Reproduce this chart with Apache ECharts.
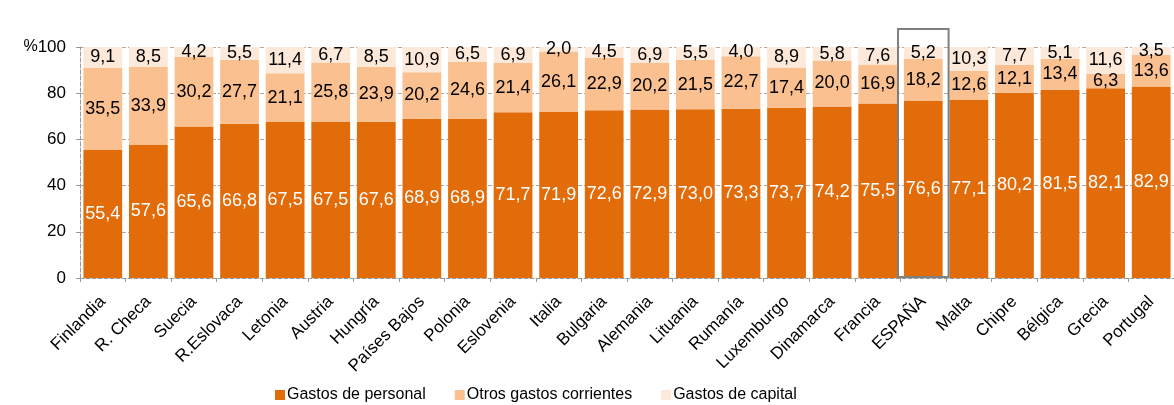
<!DOCTYPE html>
<html>
<head>
<meta charset="utf-8">
<script src="https://cdn.jsdelivr.net/npm/echarts@6/dist/echarts.min.js"></script>
<style>
  html, body { margin: 0; padding: 0; background: #fff; }
  #chart { width: 1174px; height: 405px; }
</style>
</head>
<body>
<div id="chart"></div>
<script>
// paises ordenados por gasto de personal
var paises = ['Finlandia', 'R. Checa', 'Suecia', 'R.Eslovaca', 'Letonia', 'Austria', 'Hungría', 'Países Bajos',
  'Polonia', 'Eslovenia', 'Italia', 'Bulgaria', 'Alemania', 'Lituania', 'Rumanía', 'Luxemburgo',
  'Dinamarca', 'Francia', 'ESPAÑA', 'Malta', 'Chipre', 'Bélgica', 'Grecia', 'Portugal'];
var gastosPersonal = [55.4, 57.6, 65.6, 66.8, 67.5, 67.5, 67.6, 68.9, 68.9, 71.7, 71.9, 72.6,
  72.9, 73.0, 73.3, 73.7, 74.2, 75.5, 76.6, 77.1, 80.2, 81.5, 82.1, 82.9];
var otrosCorrientes = [35.5, 33.9, 30.2, 27.7, 21.1, 25.8, 23.9, 20.2, 24.6, 21.4, 26.1, 22.9,
  20.2, 21.5, 22.7, 17.4, 20.0, 16.9, 18.2, 12.6, 12.1, 13.4, 6.3, 13.6];
var gastosCapital = [9.1, 8.5, 4.2, 5.5, 11.4, 6.7, 8.5, 10.9, 6.5, 6.9, 2.0, 4.5,
  6.9, 5.5, 4.0, 8.9, 5.8, 7.6, 5.2, 10.3, 7.7, 5.1, 11.6, 3.5];
var yTicks = [0, 20, 40, 60, 80, 100];
var destacado = 'ESPAÑA';

var fuente = 'Liberation Sans, Arial, sans-serif';
var fmt = function (p) { return p.value.toFixed(1).replace('.', ','); };

var chart = echarts.init(document.getElementById('chart'));

function serie(nombre, datos, color, colorTexto) {
  return {
    name: nombre,
    type: 'bar',
    stack: 'total',
    barCategoryGap: '15%',
    itemStyle: { color: color },
    label: {
      show: true,
      position: 'inside',
      formatter: fmt,
      color: colorTexto,
      fontSize: 18,
      fontFamily: fuente
    },
    data: datos
  };
}

var option = {
  animation: false,
  textStyle: { fontFamily: fuente },
  grid: { left: 80, right: -5, top: 47, bottom: 127 },
  legend: {
    top: 387,
    left: 275,
    padding: 0,
    itemWidth: 10,
    itemHeight: 10,
    itemGap: 29,
    icon: 'rect',
    textStyle: { fontSize: 16, color: '#000', fontFamily: fuente, padding: [0, 0, 0, -3] },
    data: ['Gastos de personal', 'Otros gastos corrientes', 'Gastos de capital']
  },
  xAxis: {
    type: 'category',
    data: paises,
    axisLine: { lineStyle: { color: '#999', type: 'dashed' } },
    axisTick: { show: true, length: 4, lineStyle: { color: '#999', type: 'dashed' } },
    axisLabel: {
      interval: 0,
      rotate: 45,
      margin: 21,
      color: '#000',
      fontSize: 17,
      fontFamily: fuente
    }
  },
  yAxis: {
    type: 'value',
    min: yTicks[0],
    max: yTicks[yTicks.length - 1],
    interval: 20,
    axisLine: { show: true, lineStyle: { color: '#999', type: 'dashed' } },
    axisTick: { show: true, length: 5, lineStyle: { color: '#999', type: 'dashed' } },
    splitLine: { lineStyle: { color: '#aaa', type: 'dashed' } },
    axisLabel: {
      color: '#000',
      fontSize: 17,
      margin: 14,
      formatter: function (v) { return v === 100 ? '{p|%}100' : String(v); },
      rich: { p: { fontSize: 16, color: '#000', fontFamily: fuente } }
    }
  },
  series: [
    serie('Gastos de personal', gastosPersonal, '#E36C0A', '#fff'),
    serie('Otros gastos corrientes', otrosCorrientes, '#FAC08F', '#000'),
    serie('Gastos de capital', gastosCapital, '#FDE9D9', '#000')
  ]
};
chart.setOption(option);

// recuadro gris alrededor de ESPAÑA
var idx = paises.indexOf(destacado);
var centro = chart.convertToPixel({ xAxisIndex: 0 }, idx);
var anchoCat = chart.convertToPixel({ xAxisIndex: 0 }, 1) - chart.convertToPixel({ xAxisIndex: 0 }, 0);
var yCero = chart.convertToPixel({ yAxisIndex: 0 }, 0);
var yTope = chart.convertToPixel({ yAxisIndex: 0 }, 100);
chart.setOption({
  graphic: [{
    type: 'rect',
    shape: {
      x: centro - anchoCat / 2 - 2.5,
      y: yTope - 18,
      width: anchoCat + 5,
      height: yCero - yTope + 17
    },
    style: { fill: 'none', stroke: '#808080', lineWidth: 2 },
    z: 100
  }]
});
</script>
</body>
</html>
